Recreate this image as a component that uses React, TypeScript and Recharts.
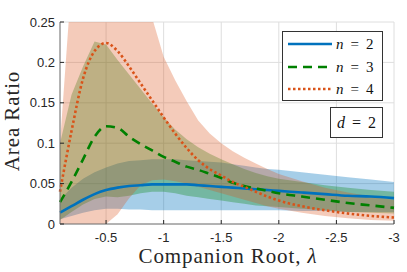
import { Area, CartesianGrid, ComposedChart, Line, XAxis, YAxis } from "recharts";

// companion root (x axis, runs from -0.1 to -3)
const lambda = [
  -0.1, -0.2, -0.3, -0.4, -0.5, -0.6, -0.7, -0.8, -0.9, -1.0, -1.1, -1.2, -1.3,
  -1.4, -1.5, -1.6, -1.7, -1.8, -1.9, -2.0, -2.2, -2.4, -2.6, -2.8, -3.0,
];

// n = 2
const n2Mean = [0.014, 0.022, 0.030, 0.037, 0.042, 0.045, 0.047, 0.048, 0.049, 0.049, 0.049, 0.049, 0.048, 0.047, 0.046, 0.045, 0.044, 0.043, 0.042, 0.041, 0.039, 0.037, 0.035, 0.034, 0.032];
const n2Lo = [0.006, 0.010, 0.014, 0.017, 0.019, 0.019, 0.018, 0.018, 0.017, 0.017, 0.017, 0.017, 0.017, 0.017, 0.017, 0.017, 0.017, 0.017, 0.017, 0.017, 0.016, 0.016, 0.015, 0.015, 0.015];
const n2Hi = [0.030, 0.045, 0.056, 0.064, 0.070, 0.075, 0.078, 0.079, 0.080, 0.080, 0.080, 0.079, 0.078, 0.077, 0.076, 0.074, 0.072, 0.070, 0.068, 0.067, 0.064, 0.061, 0.058, 0.055, 0.052];

// n = 3
const n3Mean = [0.027, 0.052, 0.080, 0.108, 0.121, 0.119, 0.108, 0.099, 0.091, 0.083, 0.077, 0.071, 0.067, 0.062, 0.057, 0.051, 0.047, 0.044, 0.041, 0.038, 0.034, 0.030, 0.026, 0.023, 0.020];
const n3Lo = [0.005, 0.015, 0.024, 0.031, 0.034, 0.033, 0.035, 0.038, 0.040, 0.040, 0.038, 0.035, 0.033, 0.031, 0.029, 0.027, 0.025, 0.023, 0.022, 0.021, 0.019, 0.017, 0.015, 0.014, 0.013];
const n3Hi = [0.100, 0.160, 0.195, 0.226, 0.222, 0.203, 0.185, 0.167, 0.149, 0.132, 0.117, 0.105, 0.095, 0.087, 0.080, 0.074, 0.068, 0.063, 0.059, 0.056, 0.052, 0.048, 0.045, 0.042, 0.040];

// n = 4
const n4Mean = [0.040, 0.115, 0.180, 0.214, 0.224, 0.214, 0.195, 0.174, 0.153, 0.132, 0.112, 0.094, 0.079, 0.068, 0.060, 0.052, 0.046, 0.040, 0.034, 0.029, 0.022, 0.017, 0.013, 0.010, 0.008];
const n4Lo = [0, 0, 0, 0, 0, 0.012, 0.032, 0.048, 0.054, 0.055, 0.053, 0.050, 0.046, 0.042, 0.038, 0.034, 0.030, 0.026, 0.022, 0.019, 0.014, 0.010, 0.007, 0.005, 0.004];
const n4Hi = [0.100, 0.300, 0.340, 0.360, 0.360, 0.350, 0.330, 0.300, 0.255, 0.207, 0.178, 0.152, 0.128, 0.112, 0.100, 0.090, 0.082, 0.075, 0.068, 0.062, 0.053, 0.045, 0.039, 0.034, 0.030];

const xTicks = [-0.5, -1, -1.5, -2, -2.5, -3];
const yTicks = [0, 0.05, 0.1, 0.15, 0.2, 0.25];

const BLUE = "#0072BD";
const GREEN = "#008000";
const ORANGE = "#D95319";

const rows = lambda.map((lam, i) => ({
  lam,
  n2: n2Mean[i],
  n2Band: [n2Lo[i], n2Hi[i]],
  n3: n3Mean[i],
  n3Band: [n3Lo[i], n3Hi[i]],
  n4: n4Mean[i],
  n4Band: [n4Lo[i], n4Hi[i]],
}));

const tickFont = { fill: "#262626", fontSize: 13, fontFamily: "Liberation Sans, Arial, sans-serif" };
const serif = "Liberation Serif, Times New Roman, serif";

const legendRows = [
  { label: "2", color: BLUE, dash: undefined },
  { label: "3", color: GREEN, dash: "9 6" },
  { label: "4", color: ORANGE, dash: "2.5 2.5" },
];

function MathEq({ sym, val }: { sym: string; val: string }) {
  return (
    <span>
      <i>{sym}</i>
      <span style={{ margin: "0 7px" }}>=</span>
      {val}
    </span>
  );
}

export default function App() {
  return (
    <div style={{ position: "absolute", left: 0, top: 0, width: 407, height: 272, background: "#fff" }}>
      <ComposedChart width={407} height={272} data={rows} margin={{ top: 22, right: 13, bottom: 0, left: 0 }}>
        <CartesianGrid stroke="#dedede" strokeWidth={1} />
        <XAxis
          dataKey="lam"
          type="number"
          domain={[-3, -0.1]}
          reversed
          ticks={xTicks}
          height={48}
          tickSize={-4}
          tickMargin={13}
          tick={tickFont}
          tickFormatter={(v) => String(v)}
          axisLine={{ stroke: "#777" }}
          tickLine={{ stroke: "#262626" }}
        />
        <XAxis
          xAxisId="top"
          orientation="top"
          type="number"
          domain={[-3, -0.1]}
          reversed
          ticks={xTicks}
          height={0}
          tickSize={-4}
          tick={false}
          axisLine={{ stroke: "#777" }}
          tickLine={{ stroke: "#262626" }}
        />
        <YAxis
          type="number"
          domain={[0, 0.25]}
          allowDataOverflow
          ticks={yTicks}
          width={60}
          tickSize={-4}
          tickMargin={9}
          tick={tickFont}
          tickFormatter={(v) => String(v)}
          axisLine={{ stroke: "#777" }}
          tickLine={{ stroke: "#262626" }}
        />
        <YAxis
          yAxisId="right"
          orientation="right"
          type="number"
          domain={[0, 0.25]}
          ticks={yTicks}
          width={0}
          tickSize={-4}
          tick={false}
          axisLine={{ stroke: "#777" }}
          tickLine={{ stroke: "#262626" }}
        />

        <Area dataKey="n2Band" type="linear" stroke="none" fill={BLUE} fillOpacity={0.35} isAnimationActive={false} />
        <Area dataKey="n3Band" type="linear" stroke="none" fill={GREEN} fillOpacity={0.3} isAnimationActive={false} />
        <Area dataKey="n4Band" type="linear" stroke="none" fill={ORANGE} fillOpacity={0.3} isAnimationActive={false} />

        <Line dataKey="n2" type="monotone" stroke={BLUE} strokeWidth={2.6} dot={false} isAnimationActive={false} />
        <Line dataKey="n3" type="monotone" stroke={GREEN} strokeWidth={2.6} strokeDasharray="9 6" dot={false} isAnimationActive={false} />
        <Line dataKey="n4" type="monotone" stroke={ORANGE} strokeWidth={2.6} strokeDasharray="2.5 2.5" dot={false} isAnimationActive={false} />
      </ComposedChart>

      {/* axis labels */}
      <div
        style={{
          position: "absolute",
          left: 228,
          top: 248,
          transform: "translateX(-50%)",
          whiteSpace: "nowrap",
          fontFamily: serif,
          fontSize: 21,
          letterSpacing: 0.9,
          color: "#262626",
          lineHeight: "16px",
        }}
      >
        Companion Root, <i>λ</i>
      </div>
      <div
        style={{
          position: "absolute",
          left: 12,
          top: 121,
          transform: "translate(-50%, -50%) rotate(-90deg)",
          whiteSpace: "nowrap",
          fontFamily: serif,
          fontSize: 21,
          letterSpacing: 0.9,
          color: "#262626",
          lineHeight: "18px",
        }}
      >
        Area Ratio
      </div>

      {/* legend */}
      <div
        style={{
          position: "absolute",
          left: 282,
          top: 31,
          width: 99,
          height: 68,
          border: "1px solid #333",
          background: "#fff",
          fontFamily: serif,
          fontSize: 15,
          color: "#111",
        }}
      >
        {legendRows.map((r, i) => (
          <div
            key={r.label}
            style={{ position: "absolute", left: 4, top: 3 + i * 22.5, height: 18, display: "flex", alignItems: "center" }}
          >
            <svg width={46} height={18}>
              <line x1={1} x2={45} y1={9} y2={9} stroke={r.color} strokeWidth={2.6} strokeDasharray={r.dash} />
            </svg>
            <span style={{ marginLeft: 3, lineHeight: "18px" }}>
              <MathEq sym="n" val={r.label} />
            </span>
          </div>
        ))}
      </div>

      {/* parameter box */}
      <div
        style={{
          position: "absolute",
          left: 330,
          top: 107,
          width: 51,
          height: 29,
          border: "1px solid #333",
          background: "#fff",
          fontFamily: serif,
          fontSize: 16,
          color: "#111",
          display: "flex",
          alignItems: "center",
          justifyContent: "center",
        }}
      >
        <MathEq sym="d" val="2" />
      </div>
    </div>
  );
}
